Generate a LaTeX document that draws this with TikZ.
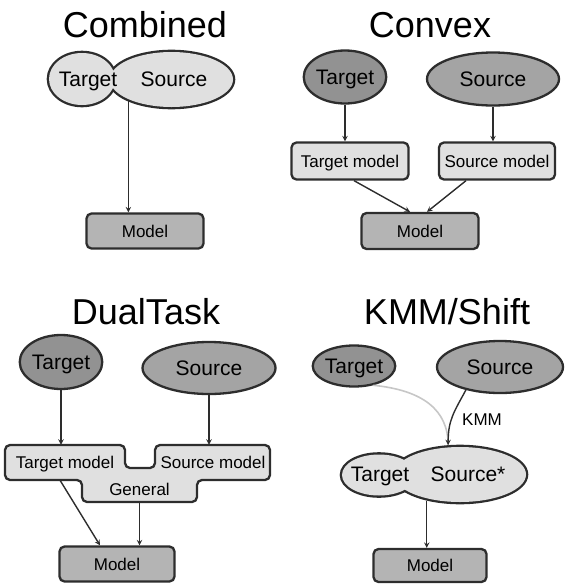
\documentclass[tikz,border=0pt]{standalone}
\usepackage{fontspec}
\setmainfont{Liberation Sans}
\usetikzlibrary{shapes.geometric}
\definecolor{edge}{RGB}{45,45,45}
\definecolor{light}{RGB}{224,224,224}
\definecolor{mid}{RGB}{180,180,180}
\definecolor{dark}{RGB}{146,146,146}
\definecolor{darkish}{RGB}{164,164,164}
\begin{document}
\begin{tikzpicture}[x=1pt,y=-1pt,>=stealth]

\tikzstyle{title}=[font=\fontsize{36}{40}\selectfont,anchor=base,inner sep=0pt]
\tikzstyle{data}=[ellipse,draw=edge,line width=2.3pt,inner sep=0pt,font=\fontsize{21}{24}\selectfont,text height=15pt,text depth=0pt]
\tikzstyle{lobe}=[ellipse,draw=edge,fill=light,line width=4.6pt,inner sep=0pt]
\tikzstyle{word}=[font=\fontsize{21}{24}\selectfont,text height=15pt,text depth=0pt,inner sep=0pt]
\tikzstyle{model}=[rectangle,rounded corners=5pt,draw=edge,line width=2.3pt,fill=mid,inner sep=0pt,font=\fontsize{17}{20}\selectfont,text height=12pt,text depth=0pt]
\tikzstyle{part}=[rectangle,rounded corners=5pt,draw=edge,line width=2.3pt,fill=light,inner sep=0pt,font=\fontsize{17}{20}\selectfont,text height=12pt,text depth=0pt]
\tikzstyle{conn}=[->,draw=edge,line width=1.4pt]

\useasboundingbox (0,0) rectangle (568,584);

%titles.
\node[title] (t1) at (145,37) {Combined};
\node[title] (t2) at (430,37) {Convex};
\node[title] (t3) at (146,324) {DualTask};
\node[title] (t4) at (447,324) {KMM/Shift};

%combined.
\node[lobe,minimum width=66pt,minimum height=52pt] (cBT) at (82,79) {};
\node[lobe,minimum width=123pt,minimum height=55pt] (cBS) at (171.5,79.5) {};
\fill[light] (cBT.center) ellipse (33 and 26) (cBS.center) ellipse (61.5 and 27.5);
\node[word] (cTt) at (88,79) {Target};
\node[word] (cSt) at (174,79) {Source};
\node[model,minimum width=117pt,minimum height=35pt] (cM) at (145,231) {Model};
\draw[conn] (cBS.207) -- (cBS.207 |- cM.north);

%convex.
\node[data,fill=dark,minimum width=66pt,minimum height=53pt] (vT) at (345,77) {Target};
\node[data,fill=darkish,minimum width=132pt,minimum height=53pt] (vS) at (493,79) {Source};
\node[part,minimum width=117pt,minimum height=37pt] (vTm) at (350,161) {Target model};
\node[part,minimum width=116pt,minimum height=37pt] (vSm) at (497,161) {Source model};
\node[model,minimum width=117pt,minimum height=36pt] (vM) at (420,231) {Model};
\draw[conn] (vT.south) -- (vT.south |- vTm.north);
\draw[conn] (vS.south) -- (vS.south |- vSm.north);
\draw[conn] ([xshift=4pt]vTm.south) -- ([xshift=-10pt]vM.north);
\draw[conn] ([xshift=-31pt]vSm.south) -- ([xshift=7pt]vM.north);

%dual task.
\node[data,fill=dark,minimum width=70pt,minimum height=54pt] (dT) at (61,362) {Target};
\node[data,fill=darkish,minimum width=133pt,minimum height=52pt] (dS) at (209,368) {Source};
\draw[draw=edge,fill=light,line width=2.3pt,rounded corners=5pt]
  (5,445) -- (125,445) -- (125,468) -- (155,468) -- (155,445) -- (270,445)
  -- (270,480) -- (197,480) -- (197,502) -- (82,502) -- (82,480) -- (5,480) -- cycle;
\node[font=\fontsize{17}{20}\selectfont,text height=12pt,text depth=0pt,minimum width=120pt,minimum height=35pt,inner sep=0pt] (dTm) at (65,462.5) {Target model};
\node[font=\fontsize{17}{20}\selectfont,text height=12pt,text depth=0pt,minimum width=115pt,minimum height=35pt,inner sep=0pt] (dSm) at (213,462.5) {Source model};
\node[font=\fontsize{17}{20}\selectfont,text height=12pt,text depth=0pt,minimum width=115pt,minimum height=26pt,inner sep=0pt] (dG) at (139.5,489) {General};
\node[model,minimum width=115pt,minimum height=35pt] (dM) at (117,564) {Model};
\draw[conn] (dT.south) -- (dT.south |- dTm.north);
\draw[conn] (dS.south) -- (dS.south |- dSm.north);
\draw[conn] ([xshift=-5pt]dTm.south) -- ([xshift=-17pt]dM.north);
\draw[conn] (dG.south) -- (dG.south |- dM.north);

%kmm / shift.
\node[data,fill=dark,minimum width=68pt,minimum height=41pt] (kT) at (354,366) {Target};
\node[data,fill=darkish,minimum width=126pt,minimum height=52pt] (kS) at (500,367) {Source};
\node[lobe,minimum width=74pt,minimum height=41pt] (kBT) at (379,475) {};
\node[lobe,minimum width=132pt,minimum height=55pt] (kBS) at (460,474.5) {};
\fill[light] (kBT.center) ellipse (37 and 20.5) (kBS.center) ellipse (66 and 27.5);
\node[word] (kTt) at (380,474) {Target};
\node[word] (kSt) at (468,474) {Source*};
\node[model,minimum width=113pt,minimum height=33pt] (kM) at (430,565.5) {Model};
\draw[line width=1.6pt,draw=black!22] (kT.-45) .. controls +(50,5) and +(0,-35) .. (kBS.112);
\draw[conn] (kS.214) .. controls +(-12,22) and +(0,-25) .. (kBS.112);
\node[font=\fontsize{17}{20}\selectfont] (kmm) at (482,420) {KMM};
\draw[conn] (kBS.218) -- (kBS.218 |- kM.north);

\end{tikzpicture}
\end{document}
